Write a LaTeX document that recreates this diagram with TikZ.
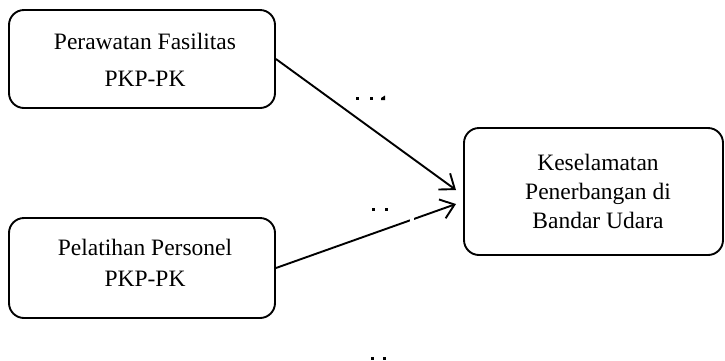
\documentclass[tikz,border=0pt]{standalone}
\usepackage{fontspec}
\setmainfont{Liberation Serif}
\usetikzlibrary{arrows.meta}
\begin{document}
\begin{tikzpicture}[x=1pt,y=-1pt,
  box/.style={draw, line width=1.9pt, rounded corners=15pt, inner sep=0pt},
  lbl/.style={align=center, inner sep=0pt},
  conn/.style={line width=1.9pt, -{Straight Barb[length=13pt,width=20pt,line width=1.9pt]}},
  frag/.style={fill=black, inner sep=0pt}]
\useasboundingbox (0,0) rectangle (725,360);
% boxes
\node[box, minimum width=266pt, minimum height=98pt] (b1) at (142,59) {};
\node[lbl, font=\fontsize{23.5}{37.5}\selectfont] (t1) at (145,60) {Perawatan Fasilitas\\PKP-PK};
\node[box, minimum width=266pt, minimum height=100pt] (b2) at (142,268) {};
\node[lbl, font=\fontsize{23.5}{31}\selectfont] (t2) at (145,263) {Pelatihan Personel\\PKP-PK};
\node[box, minimum width=259pt, minimum height=127pt] (b3) at (593.5,191.5) {};
\node[lbl, font=\fontsize{23.5}{29}\selectfont] (t3) at (598,191) {Keselamatan\\Penerbangan di\\Bandar Udara};
% arrow tips
\coordinate (e1) at (456,190);
\coordinate (e2) at (456,204);
\draw[conn] (b1.east) -- (e1);
\draw[conn] (b2.east) -- (e2);
% small gap in lower arrow
\fill[white] (410,217) rectangle (414,225);
% text fragments
\fill (356,97) rectangle (359,100);
\fill (370,97) rectangle (373,100);
\fill (381,98) -- (385,95.5) -- (385,100) -- (381,100) -- cycle;
\fill (372,208) rectangle (375,211);
\fill (385,208) rectangle (388,211);
\fill (371,357) rectangle (374,360);
\fill (383,357) rectangle (386,360);
\end{tikzpicture}
\end{document}
